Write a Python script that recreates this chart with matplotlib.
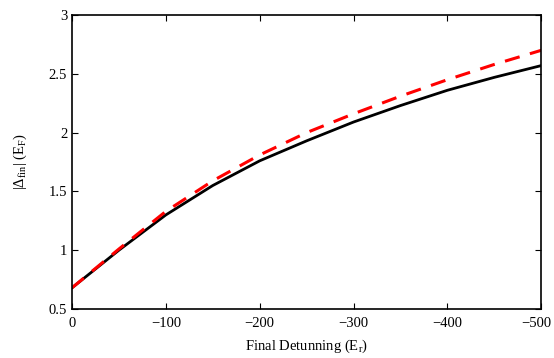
import matplotlib
matplotlib.use("Agg")
import matplotlib.pyplot as plt
import matplotlib.transforms as mtransforms

plt.rcParams['font.family'] = ['Liberation Serif', 'DejaVu Serif']
plt.rcParams['mathtext.fontset'] = 'custom'
plt.rcParams['mathtext.rm'] = 'Liberation Serif'
plt.rcParams['mathtext.it'] = 'Liberation Serif:italic'

detuning = [0, -50, -100, -150, -200, -250, -300, -350, -400, -450, -500]
gap_black = [0.68, 1.00, 1.30, 1.55, 1.76, 1.93, 2.09, 2.23, 2.36, 2.47, 2.57]
gap_red = [0.68, 1.01, 1.33, 1.59, 1.81, 2.00, 2.16, 2.31, 2.45, 2.58, 2.70]

fig = plt.figure(figsize=(5.54, 3.58), dpi=100)
ax = fig.add_axes([0.130, 0.137, 0.847, 0.821])

ax.plot(detuning, gap_black, color='black', lw=2)
ax.plot(detuning, gap_red, color='red', lw=2.2, ls=(0, (5, 3.5)))

ax.set_xlim(0, -500)
ax.set_ylim(0.5, 3)
ax.set_xticks([0, -100, -200, -300, -400, -500])
ax.set_yticks([0.5, 1, 1.5, 2, 2.5, 3])
ax.set_yticklabels(['0.5', '1', '1.5', '2', '2.5', '3'])
ax.tick_params(direction='in', top=True, right=True, length=4, labelsize=10.5)
ax.tick_params(axis='x', pad=6)
for s in ax.spines.values():
    s.set_linewidth(1.2)

# last x label sits against the right edge, nudge it left a bit
lbl = ax.get_xticklabels()[-1]
lbl.set_transform(lbl.get_transform() + mtransforms.ScaledTranslation(-5 / 100, 0, fig.dpi_scale_trans))

ax.set_xlabel('Final Detunning (E$_\\mathrm{r}$)', fontsize=10.5, labelpad=5)
ax.set_ylabel('|$\\Delta_\\mathrm{fin}$| (E$_\\mathrm{F}$)', fontsize=10.5, labelpad=14)

fig.savefig('out.png', dpi=100)
